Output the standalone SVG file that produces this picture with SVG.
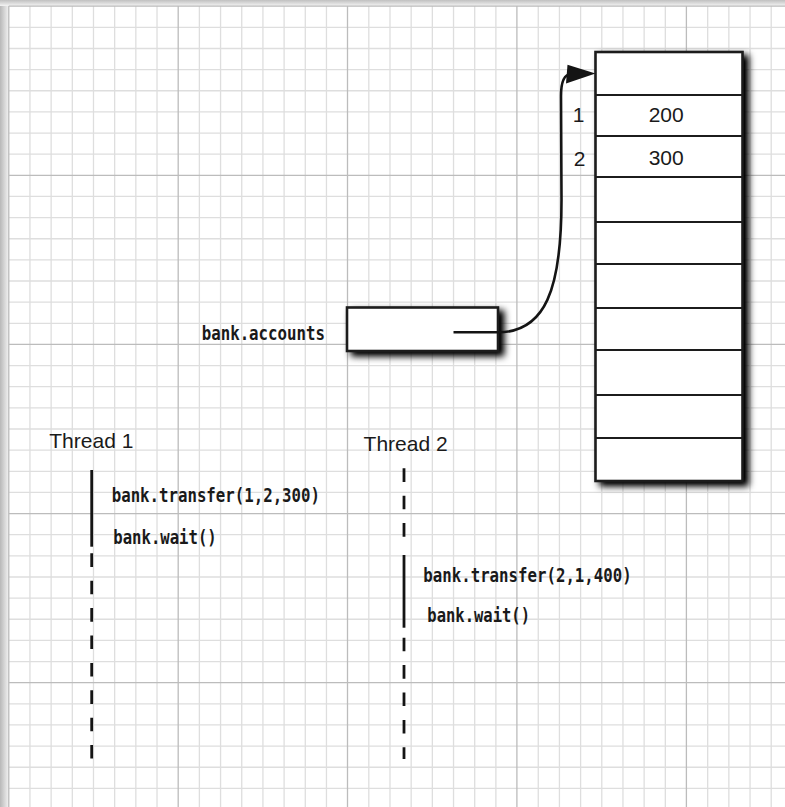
<svg xmlns="http://www.w3.org/2000/svg" width="785" height="807" viewBox="0 0 785 807">
<style>
.minor{stroke:#dedede;stroke-width:1.3;fill:none}
.major{stroke:#bcbcbc;stroke-width:1.3;fill:none}
.box{fill:#fff;stroke:#1c1c1c;stroke-width:2.6}
.row{stroke:#1c1c1c;stroke-width:2.2;fill:none}
.lbl{font-family:"Liberation Sans",Arial,sans-serif;font-size:21px;fill:#1a1a1a}
.code{font-family:"DejaVu Sans Mono","Liberation Mono",monospace;font-weight:bold;font-size:19.5px;fill:#1a1a1a}
.thr{stroke:#141414;stroke-width:2.8;fill:none}
.dash{stroke-dasharray:13.6 13.8}
.conn{stroke:#141414;stroke-width:2.6;fill:none}
</style>
<defs>
<filter id="sh" x="-20%" y="-20%" width="150%" height="150%">
<feGaussianBlur in="SourceAlpha" stdDeviation="3.8"/>
<feOffset dx="5" dy="4"/>
<feComponentTransfer><feFuncA type="linear" slope="1.1"/></feComponentTransfer>
<feMerge><feMergeNode/><feMergeNode in="SourceGraphic"/></feMerge>
</filter>
<linearGradient id="gl" x1="0" y1="0" x2="1" y2="0"><stop offset="0" stop-color="#b8b8b8"/><stop offset="1" stop-color="#f4f4f4"/></linearGradient>
<linearGradient id="gt" x1="0" y1="0" x2="0" y2="1"><stop offset="0" stop-color="#c0c0c0"/><stop offset="1" stop-color="#f4f4f4"/></linearGradient>
</defs>
<rect x="0" y="0" width="785" height="807" fill="#fff"/>
<rect x="0" y="0" width="9" height="807" fill="url(#gl)"/>
<rect x="0" y="0" width="785" height="6" fill="url(#gt)"/>
<g id="grid">
<path class="minor" d="M29.95,6V807M51.13,6V807M72.31,6V807M93.49,6V807M114.67,6V807M135.84,6V807M157.02,6V807M199.38,6V807M220.56,6V807M241.74,6V807M262.92,6V807M284.1,6V807M305.28,6V807M326.46,6V807M368.81,6V807M389.99,6V807M411.17,6V807M432.35,6V807M453.53,6V807M474.71,6V807M495.89,6V807M538.25,6V807M559.42,6V807M580.6,6V807M601.78,6V807M622.96,6V807M644.14,6V807M665.32,6V807M707.68,6V807M728.86,6V807M750.04,6V807M771.21,6V807
M9,27.34H785M9,48.48H785M9,69.62H785M9,90.76H785M9,111.9H785M9,133.04H785M9,154.18H785M9,196.46H785M9,217.6H785M9,238.74H785M9,259.88H785M9,281.02H785M9,302.16H785M9,323.3H785M9,365.58H785M9,386.72H785M9,407.86H785M9,429H785M9,450.14H785M9,471.28H785M9,492.42H785M9,534.7H785M9,555.84H785M9,576.98H785M9,598.12H785M9,619.26H785M9,640.4H785M9,661.54H785M9,703.82H785M9,724.96H785M9,746.1H785M9,767.24H785M9,788.38H785"/>
<path class="major" d="M8.8,6V807M178.2,6V807M347.5,6V807M516.9,6V807M686.4,6V807M8.8,6.2H785M8.8,175.32H785M8.8,344.44H785M8.8,513.56H785M8.8,682.68H785"/>
</g>
<g id="accounts-array">
<rect class="box" x="595.5" y="52" width="147" height="429" filter="url(#sh)"/>
<path class="row" d="M595.5,95H742.5M595.5,136H742.5M595.5,177H742.5M595.5,222H742.5M595.5,264H742.5M595.5,308H742.5M595.5,350H742.5M595.5,395H742.5M595.5,438H742.5"/>
<text class="lbl" x="584.5" y="121.7" text-anchor="end">1</text>
<text class="lbl" x="585.5" y="165.5" text-anchor="end">2</text>
<text class="lbl" x="666.2" y="121.7" text-anchor="middle">200</text>
<text class="lbl" x="666.2" y="165" text-anchor="middle">300</text>
</g>
<g id="bank-accounts">
<text class="code" x="201.7" y="339.5" textLength="123.3" lengthAdjust="spacingAndGlyphs">bank.accounts</text>
<rect class="box" x="347" y="307.5" width="151" height="43.5" filter="url(#sh)"/>
</g>
<g id="connectors">
<path class="conn" d="M453.5,332.3H498C545,332.3 561.5,290 561.5,200L561,96Q561,74.5 571,74"/>
<polygon points="595.5,73.6 567.5,64.8 566,83.5" fill="#141414"/>
</g>
<g id="thread1">
<text class="lbl" x="49.3" y="448.3">Thread 1</text>
<line class="thr" x1="91.7" y1="470" x2="91.7" y2="546.7"/>
<line class="thr dash" x1="91.7" y1="553.3" x2="91.7" y2="758.5"/>
<text class="code" x="111.7" y="501.7" textLength="208.3" lengthAdjust="spacingAndGlyphs">bank.transfer(1,2,300)</text>
<text class="code" x="113.3" y="544" textLength="103.4" lengthAdjust="spacingAndGlyphs">bank.wait()</text>
</g>
<g id="thread2">
<text class="lbl" x="363.6" y="450.7">Thread 2</text>
<line class="thr dash" x1="404" y1="468.3" x2="404" y2="538"/>
<line class="thr" x1="404" y1="555" x2="404" y2="627.7"/>
<line class="thr dash" x1="404" y1="637.7" x2="404" y2="759"/>
<text class="code" x="423.3" y="581.7" textLength="208.4" lengthAdjust="spacingAndGlyphs">bank.transfer(2,1,400)</text>
<text class="code" x="427.3" y="621.7" textLength="102.7" lengthAdjust="spacingAndGlyphs">bank.wait()</text>
</g>
</svg>
